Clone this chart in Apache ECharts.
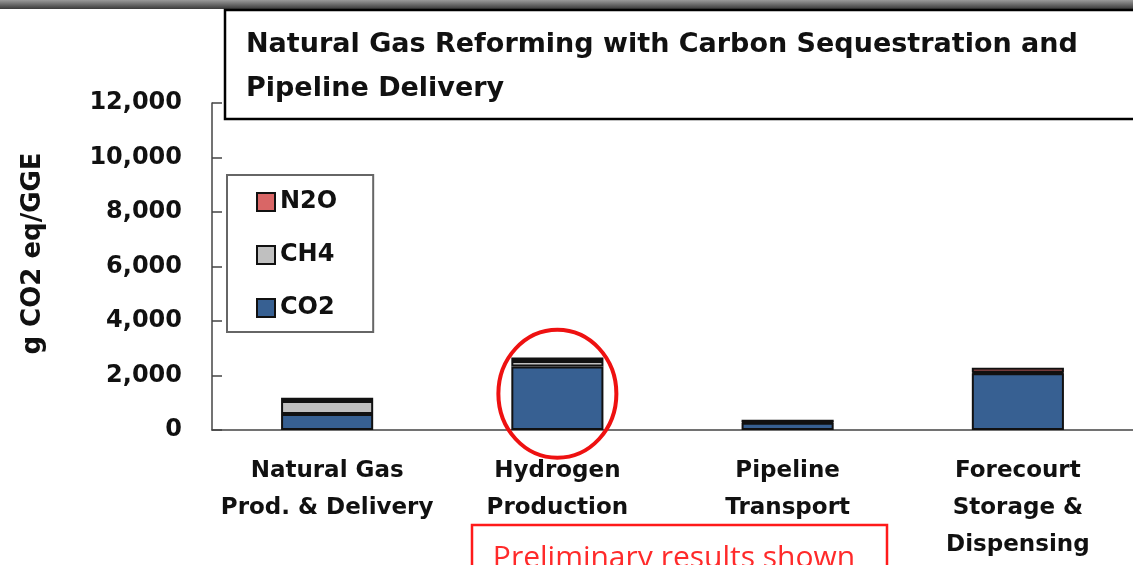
<!DOCTYPE html>
<html>
<head>
<meta charset="utf-8">
<script src="https://cdn.jsdelivr.net/npm/echarts@6/dist/echarts.min.js"></script>
<style>
html, body { margin: 0; padding: 0; background: #fff; }
#main { width: 1133px; height: 565px; }
</style>
</head>
<body>
<div id="main"></div>
<script>
// data
var categories = ['Natural Gas\nProd. & Delivery', 'Hydrogen\nProduction', 'Pipeline\nTransport', 'Forecourt\nStorage &\nDispensing'];
var co2 = [590, 2330, 270, 2080];
var ch4 = [475, 200, 20, 30];
var n2o = [120, 130, 90, 170];
var yTicks = [0, 2000, 4000, 6000, 8000, 10000, 12000];

var font = 'DejaVu Sans';

var myChart = echarts.init(document.getElementById('main'));

var option = {
	animation : false,
	backgroundColor : '#fff',
	textStyle : {
		fontFamily : font
	},
	title : {
		text : 'Natural Gas Reforming with Carbon Sequestration and\nPipeline Delivery',
		left : 246,
		top : 23,
		padding : 0,
		textStyle : {
			fontFamily : font,
			fontWeight : 'bold',
			fontSize : 27,
			lineHeight : 44,
			color : '#111'
		},
		z : 10
	},
	legend : {
		orient : 'vertical',
		left : 227,
		top : 175,
		data : [ 'N2O', 'CH4', 'CO2' ],
		icon : 'rect',
		itemWidth : 18,
		itemHeight : 18,
		itemGap : 29,
		padding : [ 15, 36, 12, 29 ],
		borderColor : '#666',
		borderWidth : 2,
		backgroundColor : '#fff',
		textStyle : {
			fontFamily : font,
			fontWeight : 'bold',
			fontSize : 24,
			lineHeight : 24,
			color : '#111'
		}
	},
	grid : {
		left : 212,
		top : 103,
		width : 929,
		height : 327
	},
	xAxis : {
		type : 'category',
		data : categories,
		axisLine : {
			lineStyle : { color : '#444', width : 1.5 }
		},
		axisTick : {
			inside : true,
			length : 10,
			lineStyle : { color : '#444', width : 1.5 }
		},
		axisLabel : {
			margin : 23,
			fontFamily : font,
			fontWeight : 'bold',
			fontSize : 23,
			lineHeight : 37,
			color : '#111',
			interval : 0
		}
	},
	yAxis : {
		type : 'value',
		min : yTicks[0],
		max : yTicks[yTicks.length - 1],
		interval : 2000,
		name : 'g CO2 eq/GGE',
		nameLocation : 'middle',
		nameGap : 166,
		nameTextStyle : {
			fontFamily : font,
			fontWeight : 'bold',
			fontSize : 26,
			color : '#111',
			padding : [ 0, 0, 0, 26 ]
		},
		splitLine : { show : false },
		axisLine : {
			show : true,
			lineStyle : { color : '#444', width : 1.5 }
		},
		axisTick : {
			show : true,
			inside : true,
			length : 10,
			lineStyle : { color : '#444', width : 1.5 }
		},
		axisLabel : {
			margin : 30,
			fontFamily : font,
			fontWeight : 'bold',
			fontSize : 24,
			color : '#111',
			formatter : function(v) {
				return v.toLocaleString('en-US');
			}
		}
	},
	series : [ {
		name : 'CO2',
		type : 'bar',
		stack : 'ghg',
		barWidth : '40%',
		data : co2,
		itemStyle : { color : '#376092', borderColor : '#111', borderWidth : 2 }
	}, {
		name : 'CH4',
		type : 'bar',
		stack : 'ghg',
		data : ch4,
		itemStyle : { color : '#c0c0c0', borderColor : '#111', borderWidth : 2 }
	}, {
		name : 'N2O',
		type : 'bar',
		stack : 'ghg',
		data : n2o,
		itemStyle : { color : '#d96666', borderColor : '#111', borderWidth : 2 }
	} ]
};

myChart.setOption(option);

// decorations: top bar, title box, red circle, red note box
var total = co2[1] + ch4[1] + n2o[1];
var ctr = myChart.convertToPixel({ gridIndex : 0 }, [ 1, total / 2 ]);

myChart.setOption({
	graphic : [ {
		type : 'rect',
		shape : { x : 0, y : 0, width : 1133, height : 9 },
		style : {
			fill : new echarts.graphic.LinearGradient(0, 0, 0, 1, [
				{ offset : 0, color : '#9a9a9a' },
				{ offset : 1, color : '#3a3a3a' }
			])
		},
		z : 5
	}, {
		type : 'rect',
		shape : { x : 225, y : 10, width : 1000, height : 109 },
		style : { fill : '#fff', stroke : '#000', lineWidth : 2.5 },
		z : 5
	}, {
		type : 'ellipse',
		shape : { cx : ctr[0], cy : ctr[1], rx : 59, ry : 64 },
		style : { fill : 'none', stroke : '#ee1111', lineWidth : 4 },
		z : 20
	}, {
		type : 'rect',
		shape : { x : 472, y : 525, width : 415, height : 60 },
		style : { fill : 'none', stroke : '#ff1a1a', lineWidth : 2.5 },
		z : 20
	}, {
		type : 'text',
		x : 674,
		y : 558,
		style : {
			text : 'Preliminary results shown',
			fontFamily : 'Open Sans',
			fontSize : 30,
			fill : '#ff2a2a',
			align : 'center',
			verticalAlign : 'middle'
		},
		z : 20
	} ]
});
</script>
</body>
</html>
